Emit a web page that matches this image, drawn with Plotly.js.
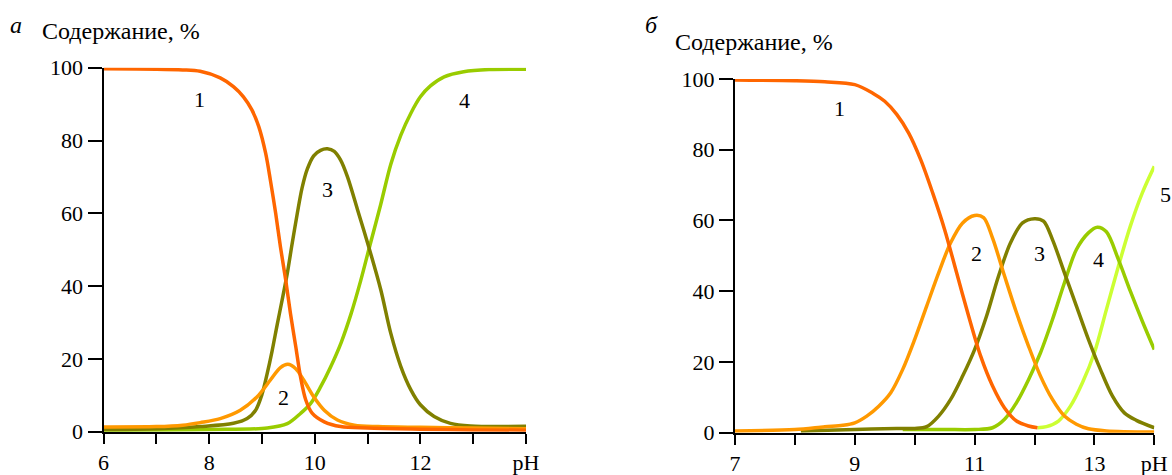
<!DOCTYPE html>
<html>
<head>
<meta charset="utf-8">
<script src="https://cdn.plot.ly/plotly-3.0.1.min.js"></script>
<style>html,body{margin:0;padding:0;background:#fff;}#chart{width:1172px;height:475px;}</style>
</head>
<body>
<div id="chart"></div>
<script>
// ---- Panel а ----
const a1x = [6, 7, 7.5, 7.83, 8.21, 8.46, 8.65, 8.81, 8.94, 9.07, 9.16, 9.26, 9.35, 9.45, 9.54, 9.64, 9.73, 9.83, 9.95, 10.18, 10.49, 11, 12, 13, 14];
const a1y = [99.7, 99.6, 99.4, 99.0, 97.2, 94.8, 92.0, 88.4, 83.8, 76.5, 69.1, 60, 50.8, 41.7, 32.5, 23.4, 15.1, 8.7, 5.1, 2.7, 1.4, 1.0, 0.7, 0.5, 0.4];

const a2x = [6, 7, 7.5, 7.83, 8.21, 8.59, 8.91, 9.16, 9.35, 9.49, 9.64, 9.79, 9.98, 10.18, 10.43, 10.75, 11.2, 12, 13, 14];
const a2y = [1.3, 1.4, 1.8, 2.5, 3.6, 5.9, 9.6, 14.2, 17.6, 18.5, 17.3, 14.2, 9.6, 5.9, 3.2, 1.8, 1.4, 1.2, 1.0, 0.8];

const a3x = [6, 7, 7.83, 8.46, 8.72, 8.88, 9.0, 9.1, 9.19, 9.29, 9.38, 9.48, 9.57, 9.67, 9.76, 9.86, 9.98, 10.11, 10.24, 10.37, 10.49, 10.62, 10.81, 11.03, 11.25, 11.44, 11.63, 11.82, 12.0, 12.26, 12.57, 12.95, 14];
const a3y = [0.6, 0.8, 1.4, 2.3, 3.6, 5.9, 10.2, 16, 22, 29.5, 36, 43.5, 51.5, 60, 67, 72.2, 75.8, 77.3, 77.7, 77, 74.6, 70, 61, 50.4, 39, 27, 17.9, 11.5, 7.4, 4.2, 2.3, 1.6, 1.5];

const a4x = [6, 8, 9.1, 9.48, 9.73, 9.92, 10.11, 10.3, 10.5, 10.69, 10.87, 11.03, 11.25, 11.44, 11.63, 11.82, 12.0, 12.19, 12.45, 12.82, 13.3, 14];
const a4y = [0.4, 0.6, 1.0, 2.2, 5, 7.7, 12.3, 17.8, 24.5, 32.5, 41.5, 50.4, 62.5, 73.5, 81.5, 87.5, 92, 95, 97.5, 98.9, 99.5, 99.6];

const aLabels = ['1', '2', '3', '4'];
const aLabelX = [7.82, 9.41, 10.24, 12.83];
const aLabelY = [91.4, 9.5, 66.6, 91];
const aTickVals = [6, 7, 8, 9, 10, 11, 12, 13, 14];
const aTickText = ['6', '', '8', '', '10', '', '12', '', 'pH'];

// ---- Panel б ----
const b1x = [7, 8, 8.5, 9, 9.3, 9.5, 9.7, 9.9, 10.1, 10.3, 10.5, 10.7, 10.9, 11.1, 11.3, 11.5, 11.7, 11.9, 12.05];
const b1y = [99.7, 99.5, 99.2, 98.4, 96, 93.7, 90, 84.7, 77.2, 67.8, 57.4, 45.2, 33, 21.7, 13.2, 7, 3.3, 1.9, 1.4];

const b2x = [7, 8, 8.5, 8.8, 9, 9.2, 9.4, 9.6, 9.8, 10, 10.2, 10.4, 10.6, 10.8, 11, 11.15, 11.3, 11.5, 11.7, 11.9, 12.1, 12.3, 12.5, 12.7, 12.9, 13.2, 14];
const b2y = [0.5, 0.9, 1.7, 2.1, 2.8, 4.7, 7.5, 11.3, 17.9, 26.4, 35.8, 45.2, 53.7, 59.3, 61.4, 60.8, 55, 44.3, 33.9, 24.5, 16, 9.4, 4.7, 2.4, 1.1, 0.5, 0.2];

const b3x = [8.1, 9, 9.7, 10, 10.2, 10.4, 10.6, 10.8, 11, 11.2, 11.4, 11.6, 11.8, 12, 12.15, 12.3, 12.5, 12.7, 12.9, 13.1, 13.3, 13.5, 13.7, 14];
const b3y = [0.5, 0.9, 1.2, 1.2, 1.7, 4.7, 9.4, 16, 23.5, 33, 44.3, 53.7, 59.3, 60.5, 59.8, 54.6, 45.2, 35.8, 26.4, 17.9, 10.4, 5.6, 3.5, 1.4];

const b4x = [9.8, 10.5, 11, 11.3, 11.5, 11.7, 11.9, 12.1, 12.3, 12.5, 12.7, 12.9, 13.05, 13.2, 13.4, 13.6, 13.8, 14];
const b4y = [0.9, 0.9, 0.9, 1.4, 3.8, 8.5, 15, 22.6, 32, 42.4, 51.8, 56.5, 58.1, 56.8, 49, 40, 31.5, 23.5];

const b5x = [12.05, 12.2, 12.4, 12.6, 12.8, 13, 13.2, 13.4, 13.6, 13.8, 14];
const b5y = [1.4, 1.7, 3.3, 7.5, 14.1, 22.6, 34.8, 47, 58.4, 67.8, 75.3];

const bLabels = ['1', '2', '3', '4'];
const bLabelX = [8.75, 11.04, 12.09, 13.07];
const bLabelY = [91.6, 50.8, 50.8, 49];
const bTickVals = [7, 8, 9, 10, 11, 12, 13, 14];
const bTickText = ['7', '', '9', '', '11', '', '13', 'pH'];
const bLabel5 = '5';

const yTickVals = [0, 20, 40, 60, 80, 100];

const colors = ['#FF6600', '#FF9900', '#808000', '#99CC00', '#CCFF33'];
const panelLetters = ['а', 'б'];
const yTitle = 'Содержание, %';

// ---- build ----
const W = 1172, H = 475;
const fx = p => p / W;
const fy = p => 1 - p / H;
const FONT = 'Liberation Serif';

function tr(x, y, c, xa, ya) {
  return { x: x, y: y, type: 'scatter', mode: 'lines', xaxis: xa, yaxis: ya,
    line: { color: c, width: 3.5, shape: 'spline', smoothing: 0.9 }, hoverinfo: 'skip', showlegend: false };
}

const data = [
  tr(a4x, a4y, colors[3], 'x', 'y'),
  tr(a3x, a3y, colors[2], 'x', 'y'),
  tr(a2x, a2y, colors[1], 'x', 'y'),
  tr(a1x, a1y, colors[0], 'x', 'y'),
  tr(b5x, b5y, colors[4], 'x2', 'y2'),
  tr(b4x, b4y, colors[3], 'x2', 'y2'),
  tr(b3x, b3y, colors[2], 'x2', 'y2'),
  tr(b2x, b2y, colors[1], 'x2', 'y2'),
  tr(b1x, b1y, colors[0], 'x2', 'y2')
];

const txtFont = { family: FONT, size: 22, color: '#000' };
const titleFont = { family: FONT, size: 24, color: '#000' };

const axisCommon = {
  showgrid: false, zeroline: false, showline: true, linecolor: '#000', linewidth: 2,
  ticks: 'outside', tickcolor: '#000', tickwidth: 2,
  tickfont: txtFont, fixedrange: true
};

const annotations = [];
aLabels.forEach((t, i) => annotations.push({ xref: 'x', yref: 'y', x: aLabelX[i], y: aLabelY[i], text: t, showarrow: false, font: txtFont }));
bLabels.forEach((t, i) => annotations.push({ xref: 'x2', yref: 'y2', x: bLabelX[i], y: bLabelY[i], text: t, showarrow: false, font: txtFont }));
annotations.push({ xref: 'paper', yref: 'paper', x: fx(1165), y: fy(195), text: bLabel5, showarrow: false,
  xanchor: 'center', yanchor: 'middle', font: txtFont });
annotations.push({ xref: 'paper', yref: 'paper', x: fx(16), y: fy(25), text: '<i>' + panelLetters[0] + '</i>', showarrow: false,
  xanchor: 'center', yanchor: 'middle', font: titleFont });
annotations.push({ xref: 'paper', yref: 'paper', x: fx(652), y: fy(25), text: '<i>' + panelLetters[1] + '</i>', showarrow: false,
  xanchor: 'center', yanchor: 'middle', font: titleFont });
annotations.push({ xref: 'paper', yref: 'paper', x: fx(40), y: fy(31), text: yTitle, showarrow: false,
  xanchor: 'left', yanchor: 'middle', font: titleFont });
annotations.push({ xref: 'paper', yref: 'paper', x: fx(673), y: fy(42), text: yTitle, showarrow: false,
  xanchor: 'left', yanchor: 'middle', font: titleFont });

const layout = {
  width: W, height: H,
  margin: { l: 0, r: 0, t: 0, b: 0 },
  paper_bgcolor: '#fff', plot_bgcolor: '#fff',
  font: txtFont,
  showlegend: false,
  xaxis: Object.assign({}, axisCommon, { domain: [fx(103.5), fx(526)], range: [6, 14],
    tickmode: 'array', tickvals: aTickVals, ticktext: aTickText, ticklen: 10, anchor: 'y' }),
  yaxis: Object.assign({}, axisCommon, { domain: [fy(431.7), fy(67.7)], range: [0, 100],
    tickmode: 'array', tickvals: yTickVals, ticklen: 14, anchor: 'x' }),
  xaxis2: Object.assign({}, axisCommon, { domain: [fx(735), fx(1154.3)], range: [7, 14],
    tickmode: 'array', tickvals: bTickVals, ticktext: bTickText, ticklen: 10, anchor: 'y2' }),
  yaxis2: Object.assign({}, axisCommon, { domain: [fy(432.7), fy(79)], range: [0, 100],
    tickmode: 'array', tickvals: yTickVals, ticklen: 14, anchor: 'x2' }),
  annotations: annotations
};

Plotly.newPlot('chart', data, layout, { displayModeBar: false, staticPlot: true });
</script>
</body>
</html>
